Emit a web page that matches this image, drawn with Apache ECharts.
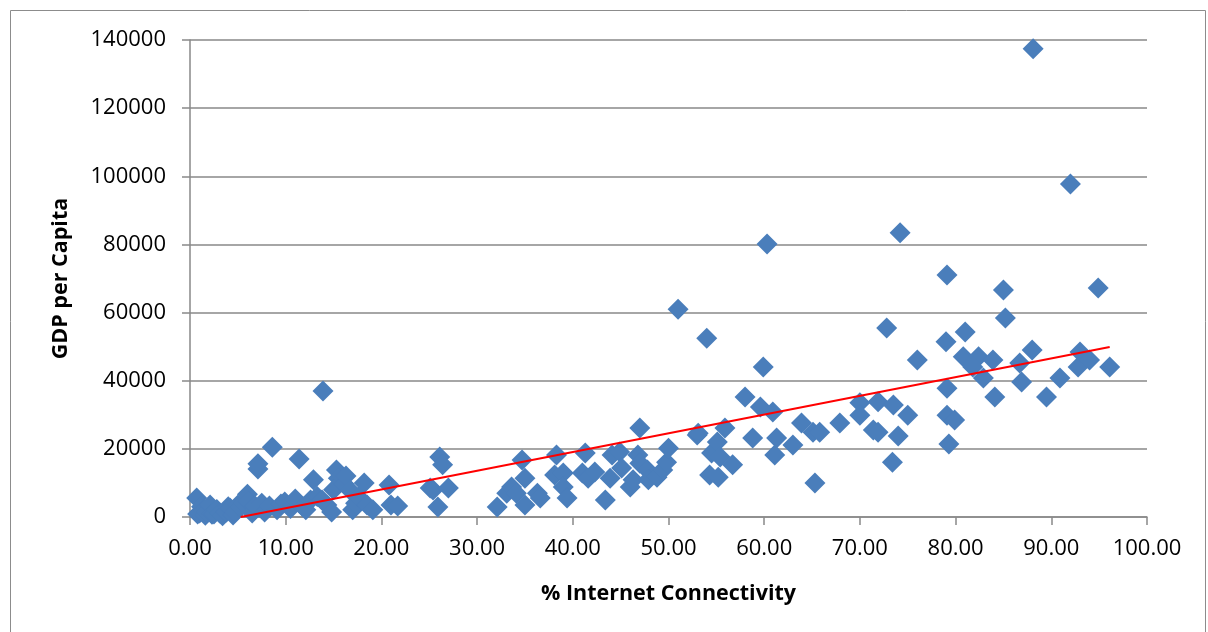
<!DOCTYPE html>
<html>
<head>
<meta charset="utf-8">
<script src="https://cdn.jsdelivr.net/npm/echarts@6/dist/echarts.min.js"></script>
<style>html,body{margin:0;padding:0;background:#fff}#c{width:1208px;height:632px}</style>
</head>
<body>
<div id="c"></div>
<script>
// % Internet Connectivity
var xValues = [
 0.7,0.8,1.0,1.2,1.4,1.6,1.8,2.1,2.3,2.5,2.8,3.1,3.4,3.8,4.0,4.2,4.5,4.7,5.0,5.2,
 5.6,6.0,6.1,6.5,6.8,7.1,7.1,7.5,7.8,8.3,8.6,9.1,9.5,9.9,10.5,11.0,11.4,11.8,12.1,12.6,
 12.9,13.3,13.9,13.8,14.3,14.8,15.3,15.5,15.0,16.1,16.3,16.7,17.0,17.3,17.6,18.2,18.5,19.1,20.8,21.0,
 21.7,25.1,25.4,26.1,26.4,25.9,27.0,32.1,33.1,33.6,34.1,34.7,35.0,35.0,36.3,36.6,38.3,38.1,39.0,39.0,
 39.4,41.3,41.0,41.6,42.3,43.4,44.1,43.9,44.9,45.1,46.0,46.3,46.8,47.0,47.0,47.8,47.9,48.8,49.4,49.8,
 50.0,51.0,53.0,53.1,54.0,54.5,55.1,55.4,55.9,56.7,54.3,55.2,58.0,58.8,59.6,59.9,60.3,60.9,61.3,61.1,
 63.0,63.9,65.1,65.8,65.3,67.9,70.0,70.0,71.9,71.4,71.9,73.5,73.4,74.0,75.0,72.8,74.2,76.0,79.1,79.0,
 79.1,79.1,79.9,79.3,81.0,80.8,82.4,81.8,82.9,83.9,84.1,85.0,85.2,86.7,86.9,88.0,88.1,89.5,90.9,92.0,
 92.8,93.0,94.0,94.9,96.1
];
// GDP per Capita
var yValues = [
 5600,900,1200,3000,2000,500,1500,3500,800,900,2200,1200,400,1500,3000,2600,600,1500,3500,2900,
 4100,6700,4500,1200,3200,14100,15600,4000,1500,3200,20500,2100,3800,4400,2500,5300,17000,3000,2100,5000,
 10900,6000,37000,5000,3500,1500,13800,11400,8000,9700,12000,7900,2100,4000,5900,10000,3500,2100,9400,3500,
 3200,8500,7900,17600,15300,2900,8500,2900,7000,8800,7000,16700,11400,3500,7000,5600,18200,12300,12900,8800,
 5600,18800,12900,11400,13200,5000,18200,11400,19100,14400,8800,10900,18200,26100,15800,13800,10900,11700,13800,16100,
 20200,61000,24100,24600,52500,18800,22000,17600,26100,15300,12300,11700,35200,23200,32300,44000,80100,30800,23200,18200,
 21100,27600,24900,24900,10000,27600,33500,29900,33800,25500,24900,32900,16100,23800,29900,55500,83400,46100,71000,51400,
 37800,29900,28500,21400,54300,47000,47000,44000,40800,46100,35200,66600,58400,45200,39600,49000,137400,35200,40800,97700,
 44000,48400,46100,67200,44000
];
// Linear trend endpoints
var trendX = [5.3, 96.1];
var trendY = [0, 49900];
var xTicks = [0,10,20,30,40,50,60,70,80,90,100];
var yTicks = [0,20000,40000,60000,80000,100000,120000,140000];

var pts = xValues.map(function(x,i){return [x, yValues[i]];});
var trend = trendX.map(function(x,i){return [x, trendY[i]];});

var chart = echarts.init(document.getElementById('c'), null, {renderer:'canvas'});
var font = '"Open Sans", "Noto Sans", sans-serif';
chart.setOption({
  animation:false,
  backgroundColor:'#fff',
  graphic:[{type:'rect', shape:{x:10.5,y:10.5,width:1195,height:640}, style:{fill:'none', stroke:'#8c8c8c', lineWidth:1}, silent:true, z:-1}],
  grid:{left:190, right:61, top:40, bottom:115},
  xAxis:{
    type:'value', min:0, max:100, interval:10,
    name:'% Internet Connectivity', nameLocation:'middle', nameGap:66,
    nameTextStyle:{fontFamily:font, fontSize:21.5, fontWeight:'bold', color:'#000'},
    axisLine:{show:true, onZero:false, lineStyle:{color:'#898989', width:1.5}},
    axisTick:{show:true, length:8, lineStyle:{color:'#898989', width:1.5}},
    axisLabel:{fontFamily:font, fontSize:22, color:'#000', margin:21, formatter:function(v){return v.toFixed(2);}},
    splitLine:{show:false}
  },
  yAxis:{
    type:'value', min:0, max:140000, interval:20000,
    name:'GDP per Capita', nameLocation:'middle', nameGap:118, nameRotate:90,
    nameTextStyle:{fontFamily:font, fontSize:21.5, fontWeight:'bold', color:'#000'},
    axisLine:{show:true, lineStyle:{color:'#898989', width:1.5}},
    axisTick:{show:true, length:8, lineStyle:{color:'#898989', width:1.5}},
    axisLabel:{fontFamily:font, fontSize:22, color:'#000', margin:24, formatter:function(v){return String(v);}},
    splitLine:{show:true, lineStyle:{color:'#898989', width:1.5}}
  },
  series:[
    {type:'scatter', data:pts, symbol:'diamond', symbolSize:[21,21],
     itemStyle:{color:'#4a7ebb', opacity:1}, z:2},
    {type:'line', data:trend, symbol:'none', lineStyle:{color:'#ff0000', width:2}, z:3}
  ]
});
</script>
</body>
</html>
